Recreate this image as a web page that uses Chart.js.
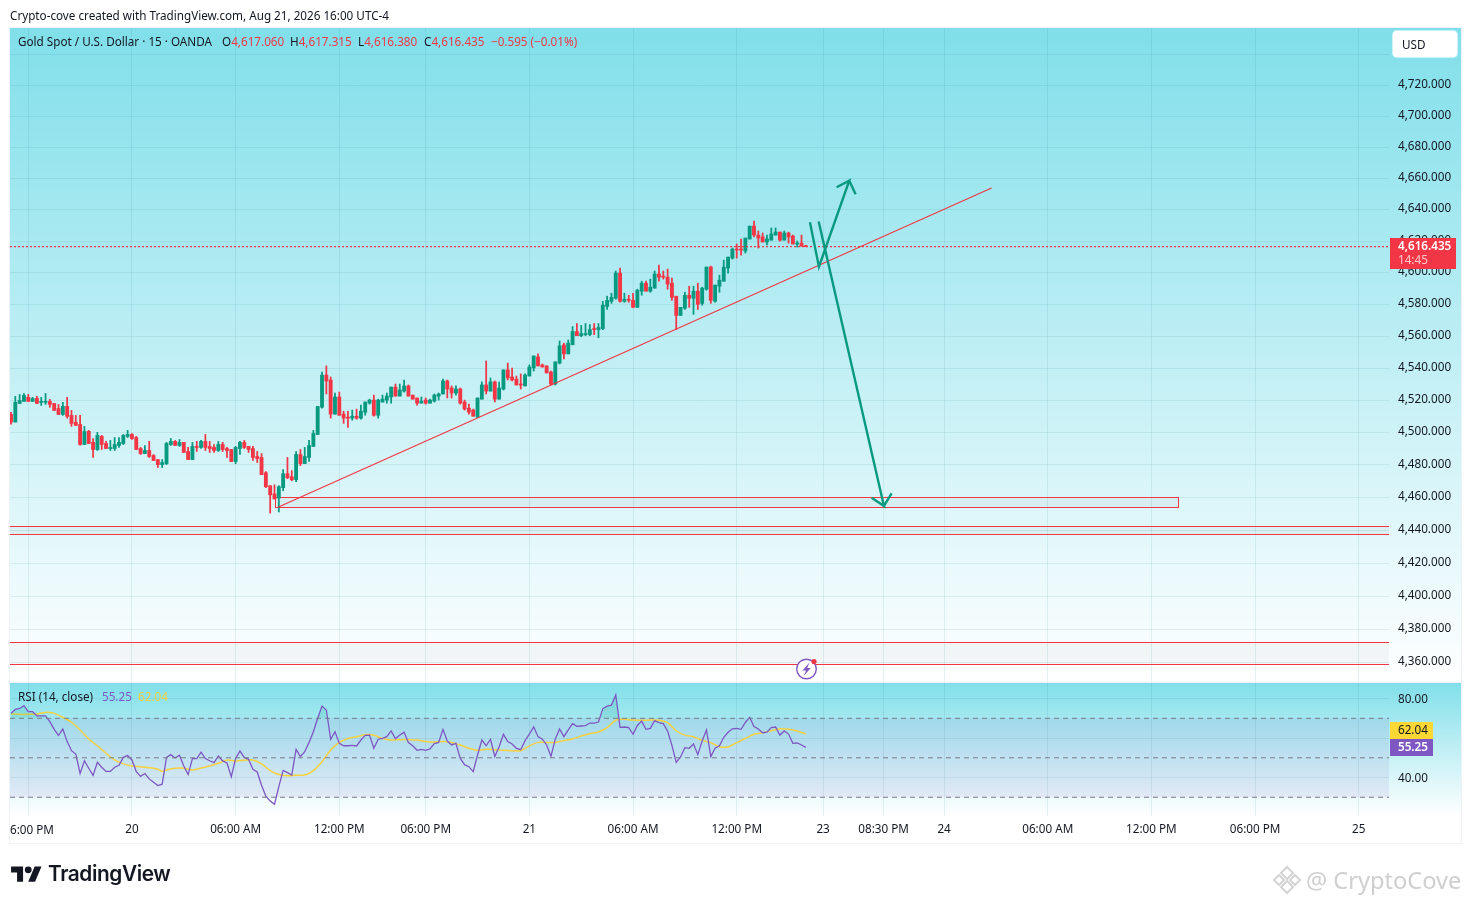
<!DOCTYPE html>
<html><head><meta charset="utf-8">
<style>
html,body{margin:0;padding:0;width:1471px;height:904px;overflow:hidden;background:#fff;font-family:"Noto Sans",sans-serif;color:#131722}
canvas{position:absolute;left:0;top:0}
.t{position:absolute;white-space:nowrap;font-size:11.7px;line-height:16px}
.r{color:#f23645}
#frame{position:absolute;left:9px;top:27px;width:1451px;height:815px;border:1px solid #eef1f6;pointer-events:none}
#usd{position:absolute;left:1393px;top:31px;width:64px;height:26px;background:#fff;border-radius:4px;box-shadow:0 0 0 1px rgba(255,255,255,.6)}
</style>
<script src="https://cdn.jsdelivr.net/npm/chart.js@4/dist/chart.umd.min.js"></script>
</head><body>
<canvas id="c" width="1471" height="904"></canvas>
<div id="frame"></div>
<div class="t" style="left:10px;top:7px">Crypto-cove created with TradingView.com, Aug 21, 2026 16:00 UTC-4</div>
<div class="t" style="left:18px;top:33px">Gold Spot / U.S. Dollar · 15 · OANDA</div>
<div class="t" style="left:222px;top:33px">O<span class="r">4,617.060</span></div>
<div class="t" style="left:290px;top:33px">H<span class="r">4,617.315</span></div>
<div class="t" style="left:358px;top:33px">L<span class="r">4,616.380</span></div>
<div class="t" style="left:424px;top:33px">C<span class="r">4,616.435</span></div>
<div class="t r" style="left:491px;top:33px">−0.595 (−0.01%)</div>
<div class="t" style="left:18px;top:688px">RSI (14, close)</div>
<div class="t" style="left:102px;top:688px;color:#7e57c2">55.25</div>
<div class="t" style="left:138px;top:688px;color:#f7d13d">62.04</div>
<div id="usd"></div>
<div class="t" style="left:1402px;top:36px">USD</div>
<div class="t" style="left:10px;top:821px">6:00 PM</div>
<svg style="position:absolute;left:795px;top:658px" width="26" height="24" viewBox="0 0 26 24">
<circle cx="11.5" cy="11" r="9.8" fill="#fff" stroke="#7e57c2" stroke-width="1.4"/>
<path d="M14.5 4.5 7.5 12.4h3.6L8.6 18l7.2-8h-3.6z" fill="#7e57c2"/>
<circle cx="19" cy="3.6" r="2.6" fill="#f23645"/></svg>
<svg style="position:absolute;left:11px;top:862.6px" width="31" height="24" viewBox="0 0 36 28"><path fill="#131722" d="M14 22H7V11H0V4h14v18zM28 22h-8l7.5-18h8L28 22z"/><circle cx="20" cy="8" r="4" fill="#131722"/></svg>
<div class="t" style="left:48px;top:859px;font:600 20.8px/30px Inter,sans-serif;letter-spacing:-.4px;color:#131722">TradingView</div>
<svg style="position:absolute;left:1272px;top:865px" width="30" height="30" viewBox="0 0 30 30"><g fill="none" stroke="#d4d4d4" stroke-width="2"><path d="M15 2l6 6-6 6-6-6z"/><path d="M7 10l5 5-5 5-5-5z"/><path d="M23 10l5 5-5 5-5-5z"/><path d="M15 16l6 6-6 6-6-6z"/></g></svg>
<div class="t" style="left:1306px;top:864px;font-size:23.6px;line-height:32px;color:#cfcfcf">@ CryptoCove</div>
<script>
const opens=[
4511.2,4506.5,4518.0,4519.3,4521.8,4519.3,4521.1,4518.7,4518.7,4519.3,
4518.0,4514.9,4511.2,4516.2,4510.6,4506.3,4505.0,4492.6,4500.7,4493.9,
4489.5,4497.6,4493.2,4490.1,4490.1,4492.0,4493.2,4497.6,4498.8,4496.9,
4490.1,4487.0,4488.9,4485.8,4483.3,4480.2,4480.8,4492.6,4494.5,4492.0,
4493.9,4488.3,4483.3,4491.4,4490.8,4494.5,4491.4,4490.8,4488.9,4492.6,
4490.1,4489.5,4482.1,4490.1,4493.9,4491.4,4490.1,4485.2,4484.6,4475.2,
4467.2,4462.2,4459.7,4466.0,4474.6,4472.8,4470.9,4486.4,4480.8,4484.6,
4491.4,4498.8,4515.7,4535.7,4532.6,4511.4,4522.0,4511.4,4509.5,4508.9,
4510.1,4508.9,4512.6,4518.2,4520.1,4510.7,4518.9,4520.1,4522.0,4528.2,
4522.6,4525.7,4528.9,4523.2,4521.4,4518.2,4520.1,4518.2,4519.5,4522.6,
4523.9,4532.0,4527.6,4524.5,4527.0,4518.9,4515.1,4513.9,4509.5,4520.7,
4529.5,4525.7,4531.4,4520.7,4527.0,4538.9,4534.5,4533.2,4530.1,4528.9,
4535.1,4540.1,4547.0,4542.0,4541.4,4537.6,4530.1,4543.2,4554.5,4548.9,
4554.6,4562.9,4560.3,4561.0,4561.0,4564.8,4564.1,4564.8,4578.7,4581.9,
4583.8,4599.7,4581.9,4583.2,4582.5,4578.1,4588.3,4593.3,4588.3,4590.2,
4599.1,4597.8,4597.1,4593.3,4585.1,4573.0,4577.5,4585.7,4583.8,4588.3,
4580.6,4589.5,4603.5,4581.9,4591.4,4594.6,4602.9,4609.2,4614.9,4614.9,
4613.7,4621.3,4629.5,4623.8,4622.6,4619.4,4620.6,4623.8,4625.7,4620.6,
4625.1,4623.2,4618.1,4618.7,4617.06];
const highs=[
4512.5,4522.4,4523.6,4524.2,4523.6,4521.8,4522.4,4521.8,4524.2,4520.5,
4518.0,4517.4,4518.7,4521.8,4513.7,4510.6,4510.6,4503.8,4501.3,4496.3,
4500.1,4498.2,4494.5,4495.1,4496.9,4496.9,4498.8,4501.3,4499.4,4497.6,
4490.8,4492.0,4494.5,4486.4,4483.3,4483.3,4493.9,4496.3,4495.1,4495.7,
4493.9,4490.8,4493.9,4494.5,4495.1,4498.8,4494.5,4492.6,4494.5,4493.9,
4490.8,4489.5,4491.4,4494.5,4495.1,4491.4,4491.4,4488.3,4487.0,4475.9,
4467.2,4467.8,4467.2,4477.1,4484.6,4476.5,4488.3,4489.5,4490.8,4495.1,
4501.3,4516.2,4537.6,4541.4,4534.5,4524.5,4525.1,4513.2,4513.2,4513.9,
4514.5,4517.0,4518.9,4520.7,4523.2,4520.7,4523.2,4524.5,4528.2,4530.1,
4530.1,4532.6,4529.5,4523.2,4521.4,4522.0,4521.4,4520.7,4523.9,4524.5,
4533.2,4532.6,4528.9,4528.9,4527.6,4520.1,4517.6,4514.5,4521.4,4531.4,
4544.5,4533.9,4532.0,4531.4,4538.9,4543.2,4540.1,4535.1,4536.4,4536.4,
4542.0,4547.6,4548.9,4542.6,4541.4,4538.2,4543.9,4557.0,4555.7,4557.6,
4566.0,4567.9,4566.7,4567.9,4567.3,4567.9,4567.9,4581.9,4585.1,4587.0,
4601.0,4602.9,4587.0,4585.7,4587.0,4589.5,4594.6,4594.6,4595.9,4601.0,
4604.8,4601.0,4602.2,4596.5,4585.1,4578.1,4587.6,4591.4,4591.4,4593.3,
4590.8,4603.5,4604.1,4592.1,4598.4,4607.9,4609.8,4615.6,4618.1,4621.3,
4621.9,4629.5,4632.7,4626.4,4625.1,4623.8,4628.3,4628.3,4625.7,4626.4,
4625.7,4623.8,4620.0,4623.8,4617.315];
const lows=[
4505.2,4506.5,4518.0,4519.3,4519.3,4519.3,4518.0,4516.8,4517.4,4515.6,
4513.7,4511.2,4510.6,4508.9,4503.8,4504.4,4492.2,4492.6,4493.2,4484.6,
4488.9,4489.5,4490.1,4488.9,4488.9,4490.8,4492.6,4496.9,4495.7,4489.5,
4486.4,4487.0,4484.6,4482.7,4478.4,4478.4,4480.2,4492.0,4492.0,4491.4,
4487.7,4483.3,4483.3,4488.3,4490.1,4488.9,4487.7,4487.7,4488.3,4488.3,
4484.6,4482.1,4480.8,4486.4,4490.1,4487.7,4482.7,4481.5,4474.0,4466.0,
4450.4,4459.1,4451.1,4464.1,4471.5,4470.3,4469.7,4479.6,4480.8,4482.1,
4491.4,4498.8,4515.1,4523.9,4508.9,4511.4,4510.7,4505.7,4503.2,4507.6,
4508.2,4508.2,4510.7,4517.6,4510.1,4508.9,4518.9,4518.2,4518.2,4522.6,
4522.6,4525.1,4522.6,4520.7,4517.0,4518.2,4517.6,4518.2,4518.9,4520.1,
4523.9,4521.4,4521.4,4523.2,4517.6,4513.9,4511.4,4510.1,4509.5,4520.7,
4523.9,4525.7,4518.9,4520.7,4526.4,4532.6,4532.0,4529.5,4527.0,4528.9,
4535.1,4538.2,4541.4,4540.7,4537.0,4529.5,4529.5,4542.6,4545.7,4548.9,
4554.6,4560.3,4559.7,4560.3,4560.3,4561.0,4559.0,4564.1,4576.8,4580.6,
4583.2,4581.3,4581.3,4581.3,4578.1,4578.1,4585.7,4588.3,4587.6,4590.2,
4594.6,4595.9,4589.5,4582.5,4564.1,4573.0,4576.8,4578.1,4573.7,4576.8,
4579.4,4588.9,4580.6,4581.3,4587.6,4594.6,4599.7,4608.6,4609.2,4611.1,
4612.4,4621.3,4622.6,4615.6,4619.4,4617.5,4620.6,4623.8,4620.0,4620.6,
4618.7,4618.1,4616.2,4616.8,4616.38];
const closes=[
4506.5,4518.7,4519.9,4523.0,4519.3,4521.1,4518.0,4519.3,4519.3,4517.4,
4513.7,4511.2,4516.2,4510.0,4505.6,4504.4,4492.6,4500.7,4493.2,4489.5,
4498.2,4492.6,4490.1,4490.8,4492.6,4493.9,4498.2,4498.8,4496.3,4489.5,
4487.0,4488.9,4485.2,4482.7,4480.2,4481.5,4493.2,4494.5,4492.0,4493.9,
4487.7,4483.3,4491.4,4490.8,4494.5,4490.8,4490.1,4488.9,4492.6,4489.5,
4488.9,4482.1,4490.8,4493.9,4490.8,4489.5,4484.6,4483.9,4474.0,4466.6,
4461.6,4459.1,4466.6,4474.6,4472.1,4470.9,4486.4,4480.8,4485.2,4492.0,
4499.4,4516.2,4535.7,4532.0,4511.4,4522.0,4510.7,4508.9,4508.9,4510.1,
4508.9,4513.2,4518.9,4520.1,4510.7,4520.1,4520.7,4522.6,4528.2,4522.6,
4526.4,4528.9,4522.6,4520.7,4518.2,4519.5,4518.2,4520.1,4523.2,4523.9,
4532.0,4527.0,4524.5,4527.0,4518.2,4514.5,4512.6,4510.1,4521.4,4529.5,
4525.7,4531.4,4520.7,4527.6,4538.9,4533.9,4532.6,4529.5,4529.5,4535.7,
4540.7,4547.6,4541.4,4540.7,4537.0,4530.1,4543.9,4553.9,4548.9,4555.7,
4562.9,4560.3,4561.6,4561.6,4564.1,4564.1,4565.4,4579.4,4582.5,4584.4,
4599.7,4581.9,4583.2,4582.5,4578.1,4588.9,4593.3,4588.3,4590.8,4599.1,
4597.1,4597.1,4592.7,4584.4,4573.0,4578.1,4585.7,4583.8,4588.3,4580.0,
4590.2,4603.5,4582.5,4592.1,4595.2,4603.5,4609.8,4614.9,4614.3,4614.3,
4621.9,4629.5,4623.8,4621.9,4619.4,4621.3,4624.5,4625.7,4620.6,4625.1,
4622.6,4618.1,4618.7,4616.8,4616.435];
const rsi=[
72.5,74.5,75.0,76.4,73.4,73.4,71.3,71.2,71.2,68.3,
64.4,61.4,64.6,58.2,53.6,51.9,42.1,48.5,44.7,41.1,
47.7,45.2,43.1,43.1,45.2,46.2,50.2,51.1,48.9,43.0,
40.6,42.0,39.3,37.6,35.9,36.6,50.2,51.6,49.9,51.3,
45.8,41.5,49.6,49.6,52.8,49.6,48.5,47.5,50.9,48.4,
47.4,40.4,49.7,53.4,50.2,49.2,44.2,42.8,36.1,30.5,
28.1,26.4,35.4,43.6,42.5,41.3,54.3,50.6,53.1,57.8,
63.2,70.0,76.2,74.2,59.4,63.2,57.3,56.1,56.1,56.3,
56.0,59.0,61.4,61.5,54.8,59.4,59.8,60.7,63.6,59.7,
61.5,62.9,57.7,56.1,53.8,54.3,53.8,54.5,57.2,57.8,
64.4,58.5,56.5,57.3,49.7,46.5,45.5,43.0,51.4,59.0,
56.1,59.4,50.7,55.6,61.9,58.2,57.0,54.8,54.1,58.7,
62.0,65.6,60.7,59.4,56.5,50.7,59.5,64.6,60.7,64.1,
67.3,65.9,66.1,66.3,67.6,67.6,68.1,74.9,76.2,76.7,
81.8,65.4,65.6,65.3,61.9,66.4,68.6,64.4,64.9,68.8,
67.8,67.3,63.6,56.3,47.7,50.4,55.1,54.8,57.0,51.6,
58.5,64.1,50.6,54.9,56.1,60.4,62.9,64.7,64.9,64.4,
67.9,70.5,65.8,64.6,62.7,63.0,65.3,65.6,61.5,63.6,
62.0,57.3,57.5,56.5,55.25];
const rsiMaBars=[0,2,4,6,8,10,12,14,16,18,20,22,24,26,28,30,32,34,35,36,38,40,42,44,46,48,50,52,54,56,58,60,62,64,66,68,70,72,74,76,78,80,82,84,86,88,90,92,94,96,98,100,102,104,106,108,110,112,114,116,118,120,122,124,126,128,130,132,134,136,138,140,142,144,146,148,150,152,154,156,158,160,162,164,166,168,170,172,174,176,178,180,182,184];
const rsiMa=[72.2,72.0,72.0,72.2,73.0,72.5,70.5,68.0,64.1,59.5,56.1,52.3,48.9,46.9,45.8,45.5,45.0,44.2,43.1,43.8,44.7,44.7,43.8,44.8,45.8,47.2,48.9,48.4,48.7,48.9,46.9,43.5,41.5,40.9,41.1,41.3,43.5,48.0,53.9,57.8,59.8,60.7,61.7,61.4,59.8,59.0,59.2,59.2,59.0,58.3,58.0,58.2,57.8,56.5,54.8,53.8,54.3,54.1,53.8,53.6,53.6,56.0,57.8,57.8,57.8,58.7,59.5,61.0,62.2,63.1,65.3,69.0,69.5,69.1,69.0,69.1,69.0,67.8,63.7,61.5,60.7,58.8,57.7,55.6,55.5,57.7,59.8,61.9,62.7,63.7,64.7,64.4,63.6,62.04];
const timeTickBars=[4,28,52,76,96,120,144,168,188,202,216,240,264,288,312];
const timeTickLabels=["","20","06:00 AM","12:00 PM","06:00 PM","21","06:00 AM","12:00 PM","23","08:30 PM","24","06:00 AM","12:00 PM","06:00 PM","25"];
const priceTicks=[4360,4380,4400,4420,4440,4460,4480,4500,4520,4540,4560,4580,4600,4620,4640,4660,4680,4700,4720,4740];
const priceTickHidden=[4740];
const rsiTicks=[40,60,80];
const rsiLabelled=[40,80];
const rsiLevels=[70,50,30];
const lastPrice=4616.435, lastRsi=55.25, lastRsiMa=62.04;
const trendX=[61.8,227], trendY=[4454,4653.8];
const arrowUpX=[184.95,187.04,194.05,191.13,194.05,195.53];
const arrowUpY=[4631.9,4603.7,4658.5,4654.3,4658.5,4649.8];
const arrowDownX=[186.97,202.08,199.24,202.08,203.86];
const arrowDownY=[4632.5,4454.8,4459.9,4454.8,4462.5];
const zoneLow=[4453.9,4437.4,4358.8], zoneHigh=[4460.0,4442.3,4372.0], zoneFrom=[61.1,-0.23,-0.23], zoneTo=[270.1,319,319], zoneEnds=[true,false,false];

const GREEN='#089981',RED='#f23645',PURPLE='#7e57c2',YELLOW='#f7d13d';
const XMIN=-0.23,XMAX=319;
const barIdx=closes.map((_,i)=>i);
const colors=closes.map((c,i)=>c>=opens[i]?GREEN:RED);
const pts=(xs,ys)=>xs.map((x,i)=>({x,y:ys[i]}));
const lineDs=(data,color,width,extra,axis)=>Object.assign({type:'line',data,borderColor:color,backgroundColor:color,borderWidth:width,pointRadius:0,tension:0,yAxisID:axis||'y',order:1,fill:false},extra||{});
const FONT='"Noto Sans",sans-serif',FS=11.7;
const gridColor='rgba(50,120,140,0.11)';

const paint={id:'paint',
 beforeDraw(ch){
  const c=ch.ctx,y=ch.scales.y,r=ch.scales.yR;
  [[y.top,y.bottom],[r.top,r.bottom]].forEach(([t,b])=>{
   const g=c.createLinearGradient(0,t,0,b);
   g.addColorStop(0,'#80dfea');g.addColorStop(1,'#ffffff');
   c.fillStyle=g;c.fillRect(10,t,1451,b-t);
  });
 },
 beforeDatasetsDraw(ch){
  const c=ch.ctx,x=ch.scales.x,y=ch.scales.y,r=ch.scales.yR;
  c.save();
  c.fillStyle='rgba(126,87,194,0.1)';
  const a=r.getPixelForValue(rsiLevels[0]),b=r.getPixelForValue(rsiLevels[2]);
  c.fillRect(x.left,a,x.right-x.left,b-a);
  zoneLow.forEach((lo,i)=>{
   const l=Math.max(x.left,Math.round(x.getPixelForValue(zoneFrom[i])));
   const rr=Math.min(x.right,Math.round(x.getPixelForValue(zoneTo[i])));
   const t=Math.round(y.getPixelForValue(zoneHigh[i]));
   const bt=Math.round(y.getPixelForValue(lo));
   c.fillStyle='rgba(120,123,134,0.06)';
   c.fillRect(l,t,rr-l,bt-t);
   c.fillStyle=RED;
   c.fillRect(l,t,rr-l,1);c.fillRect(l,bt,rr-l,1);
   if(zoneEnds[i]){c.fillRect(l,t,1,bt-t);c.fillRect(rr,t,1,bt-t+1);}
  });
  c.restore();
 },
 afterDraw(ch){
  const c=ch.ctx,y=ch.scales.y,r=ch.scales.yR;
  c.save();c.textBaseline='middle';c.textAlign='left';
  const py=y.getPixelForValue(lastPrice);
  c.fillStyle=RED;c.fillRect(1390,Math.round(py-8.5),66,31);
  c.fillStyle='#fff';c.font='600 '+FS+'px '+FONT;c.fillText('4,616.435',1398,py);
  c.fillStyle='rgba(255,255,255,.72)';c.font=FS+'px '+FONT;c.fillText('14:45',1398,py+14);
  const ry=Math.round(r.getPixelForValue(lastRsi));
  c.fillStyle=PURPLE;c.fillRect(1390,ry-8,43,17);
  c.fillStyle='#fff';c.font='600 '+FS+'px '+FONT;c.fillText('55.25',1398,ry+.5);
  c.fillStyle='#fdd835';c.fillRect(1390,ry-25,43,17);
  c.fillStyle='#131722';c.font=FS+'px '+FONT;c.fillText('62.04',1398,ry-16.5);
  c.fillStyle='#eef1f6';c.fillRect(10,y.bottom,1451,1);
  c.restore();
 }};

new Chart(document.getElementById('c'),{
 type:'bar',
 plugins:[paint],
 data:{datasets:[
  lineDs(pts(trendX,trendY),RED,1.1),
  lineDs(pts(arrowUpX,arrowUpY),GREEN,2.4,{borderJoinStyle:'miter',order:0}),
  lineDs(pts(arrowDownX,arrowDownY),GREEN,2.4,{borderJoinStyle:'miter',order:0}),
  lineDs(pts([XMIN,XMAX],[lastPrice,lastPrice]),RED,1.2,{borderDash:[2,2]}),
  ...rsiLevels.map(v=>lineDs(pts([XMIN,XMAX],[v,v]),'#787b86',1,{borderDash:[5,4]},'yR')),
  lineDs(pts(barIdx,rsi),PURPLE,1.3,{fill:{target:{value:70},above:'rgba(8,153,129,0.14)',below:'rgba(0,0,0,0)'}},'yR'),
  lineDs(pts(rsiMaBars,rsiMa),YELLOW,1.5,{tension:.3},'yR'),
  {label:'wicks',data:barIdx.map(i=>({x:i,y:[lows[i],highs[i]]})),backgroundColor:colors,barThickness:1.1,yAxisID:'y',order:5,grouped:false,borderWidth:0,borderSkipped:false},
  {label:'bodies',data:barIdx.map(i=>({x:i,y:[Math.min(opens[i],closes[i]),Math.max(opens[i],closes[i])]})),backgroundColor:colors,barThickness:3.2,minBarLength:1,yAxisID:'y',order:4,grouped:false,borderWidth:0,borderSkipped:false}
 ]},
 options:{
  responsive:false,animation:false,devicePixelRatio:1,events:[],
  layout:{padding:{left:10,top:28,right:10,bottom:61}},
  plugins:{legend:{display:false},tooltip:{enabled:false}},
  scales:{
   x:{type:'linear',min:XMIN,max:XMAX,offset:false,bounds:'data',
    grid:{color:gridColor,offset:false,drawTicks:false},border:{display:false},
    afterBuildTicks(s){s.ticks=timeTickBars.map(v=>({value:v}))},
    afterFit(s){s.height=27},
    ticks:{autoSkip:false,maxRotation:0,minRotation:0,padding:7,color:'#131722',font:{family:FONT,size:FS},
     callback(v){const k=timeTickBars.indexOf(v);return k<0?'':timeTickLabels[k]}}},
   y:{type:'logarithmic',position:'right',stack:'panes',stackWeight:654,min:4348.3,max:4757.3,bounds:'data',
    grid:{color:gridColor,drawTicks:false},border:{display:false},
    afterBuildTicks(s){s.ticks=priceTicks.map(v=>({value:v}))},
    afterFit(s){s.width=72},
    ticks:{autoSkip:false,padding:9,labelOffset:-.5,color:'#131722',font:{family:FONT,size:FS},
     callback(v){return priceTickHidden.includes(v)?'':v.toLocaleString('en-US',{minimumFractionDigits:3,maximumFractionDigits:3})}}},
   yR:{type:'linear',position:'right',stack:'panes',stackWeight:134,min:20.5,max:88.4,bounds:'data',
    grid:{color:gridColor,drawTicks:false},border:{display:false},
    afterBuildTicks(s){s.ticks=rsiTicks.map(v=>({value:v}))},
    afterFit(s){s.width=72},
    ticks:{autoSkip:false,padding:9,labelOffset:1,color:'#131722',font:{family:FONT,size:FS},
     callback(v){return rsiLabelled.includes(v)?v.toFixed(2):''}}}
  }
 }
});
</script>
</body></html>
